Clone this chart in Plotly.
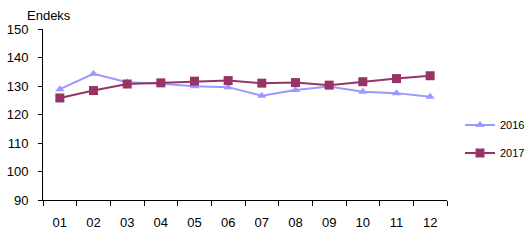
import plotly.graph_objects as go

months = ["01", "02", "03", "04", "05", "06", "07", "08", "09", "10", "11", "12"]
s2016 = [128.9, 134.3, 131.3, 130.8, 129.9, 129.6, 126.6, 128.6, 129.8, 128.0, 127.5, 126.2]
s2017 = [125.8, 128.4, 130.7, 131.1, 131.7, 131.9, 131.0, 131.2, 130.3, 131.5, 132.6, 133.6]

FONT = "Liberation Sans, Arial, sans-serif"

fig = go.Figure()
fig.add_trace(go.Scatter(
    x=months, y=s2016, name="2016", mode="lines+markers",
    line=dict(color="#9999FF", width=2),
    marker=dict(symbol="triangle-up", size=8, color="#9999FF"),
    legendgroup="a"))
fig.add_trace(go.Scatter(
    x=months, y=s2017, name="2017", mode="lines+markers",
    line=dict(color="#993366", width=2),
    marker=dict(symbol="square", size=9, color="#993366"),
    legendgroup="b"))

pw = 529 - 42.7 - 81.7
ph = 240 - 29.3 - 39.7

fig.update_layout(
    width=529, height=240,
    margin=dict(l=42.7, r=81.7, t=29.3, b=39.7, autoexpand=False),
    paper_bgcolor="white", plot_bgcolor="white",
    font=dict(family=FONT, size=13, color="black"),
    showlegend=True,
    legend=dict(x=460 / 529, y=1 - 139 / 240, xref="container", yref="container",
                xanchor="left", yanchor="middle",
                font=dict(size=11), tracegroupgap=9, itemwidth=30,
                bgcolor="rgba(0,0,0,0)"),
    xaxis=dict(type="category", range=[-0.5, len(months) - 0.5],
               showline=True, linecolor="black", linewidth=1,
               ticks="outside", ticklen=5, tickcolor="black", tickson="boundaries",
               showgrid=False, zeroline=False, ticklabelstandoff=10),
    yaxis=dict(range=[90, 150], dtick=10, showline=True, linecolor="black", linewidth=1,
               ticks="outside", ticklen=4, tickcolor="black", showgrid=False,
               zeroline=False, ticklabelstandoff=7),
    annotations=[dict(text="Endeks", x=(25 - 42.7) / pw, y=(240 - 39.7 - 16) / ph,
                      xref="paper", yref="paper", xanchor="left", yanchor="middle",
                      showarrow=False, font=dict(size=13))],
)

fig.write_html("out.html")
